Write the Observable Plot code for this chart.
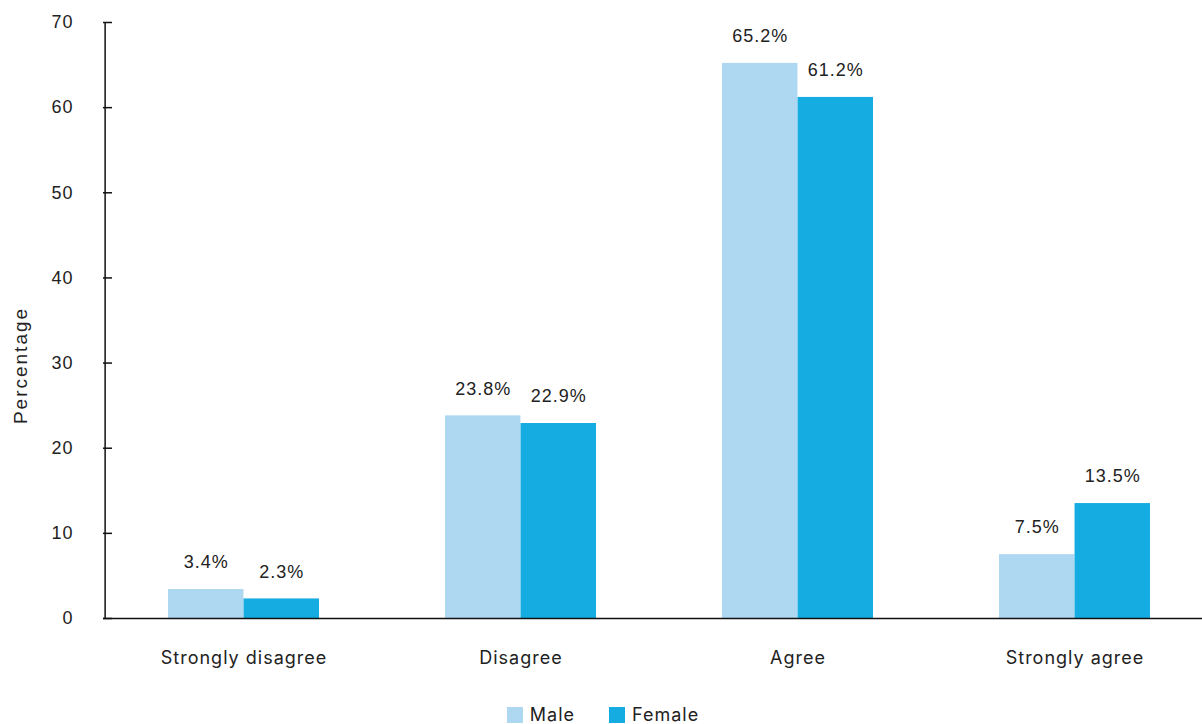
<!DOCTYPE html>
<html>
<head>
<meta charset="utf-8">
<script src="https://cdn.jsdelivr.net/npm/d3@7"></script>
<script src="https://cdn.jsdelivr.net/npm/@observablehq/plot@0.6"></script>
<style>
  html, body { margin: 0; padding: 0; background: #fff; }
  body { width: 1202px; font-family: "Inter", "Roboto", sans-serif; color: #222; }
  #legend { display: flex; justify-content: center; gap: 34px; font-size: 18px; letter-spacing: 1px; margin-top: 15px; padding-left: 4px; line-height: 20px; }
  .item { display: flex; align-items: center; gap: 7px; }
  .sw { width: 16px; height: 16px; display: inline-block; }
</style>
</head>
<body>
<div id="chart"></div>
<div id="legend"></div>
<script>
const categories = ["Strongly disagree", "Disagree", "Agree", "Strongly agree"];
const genders = ["Male", "Female"];
const maleValues = [3.4, 23.8, 65.2, 7.5];
const femaleValues = [2.3, 22.9, 61.2, 13.5];
const yTicks = [0, 10, 20, 30, 40, 50, 60, 70];
const colors = ["#AED8F1", "#14ACE1"];

const step = (1214 - 103) / categories.length;
const bw = step * 0.544;
const half = bw / 2;
const numFont = "'Liberation Sans', Arial, sans-serif";

const male = categories.map((c, i) => ({category: c, gender: "Male", value: maleValues[i]}));
const female = categories.map((c, i) => ({category: c, gender: "Female", value: femaleValues[i]}));

const chart = Plot.plot({
  width: 1202,
  height: 690,
  marginTop: 22,
  marginBottom: 72,
  marginLeft: 103,
  marginRight: 0,
  style: {fontFamily: "Inter, Roboto, sans-serif", fontSize: "18px", color: "#222"},
  x: {domain: categories, range: [103, 1214], paddingInner: 0.456, paddingOuter: 0.228},
  y: {domain: [0, 70]},
  marks: [
    Plot.barY(male, {x: "category", y: "value", fill: colors[0], insetRight: half}),
    Plot.barY(female, {x: "category", y: "value", fill: colors[1], insetLeft: half}),
    Plot.text(male, {x: "category", y: "value", text: d => d.value.toFixed(1) + "%", dx: -half / 2, dy: -27, fontSize: 18, fontFamily: numFont, fill: "#222"}),
    Plot.text(female, {x: "category", y: "value", text: d => d.value.toFixed(1) + "%", dx: half / 2, dy: -27, fontSize: 18, fontFamily: numFont, fill: "#222"}),
    Plot.ruleY([0], {stroke: "#111", strokeWidth: 1.5}),
    Plot.ruleX([categories[0]], {y1: 0, y2: 70, dx: -step / 2, stroke: "#111", strokeWidth: 1.5}),
    Plot.axisY({ticks: yTicks, tickSize: -9, tickPadding: 39, stroke: "#111", strokeWidth: 1.5, label: null, fontSize: 18, fontFamily: numFont}),
    Plot.text(["Percentage"], {frameAnchor: "left", textAnchor: "middle", rotate: -90, dx: -83, dy: 45, fontSize: 19, fontFamily: numFont, fill: "#222"}),
    Plot.axisX({tickSize: 0, tickPadding: 33, label: null, fontSize: 18})
  ]
});
document.getElementById("chart").appendChild(chart);
chart.querySelectorAll("text").forEach(t => {
  t.style.letterSpacing = t.textContent === "Percentage" ? "2px" : "1px";
});

const legend = document.getElementById("legend");
genders.forEach((g, i) => {
  const item = document.createElement("span");
  item.className = "item";
  const sw = document.createElement("span");
  sw.className = "sw";
  sw.style.background = colors[i];
  item.appendChild(sw);
  item.appendChild(document.createTextNode(g));
  legend.appendChild(item);
});
</script>
</body>
</html>
